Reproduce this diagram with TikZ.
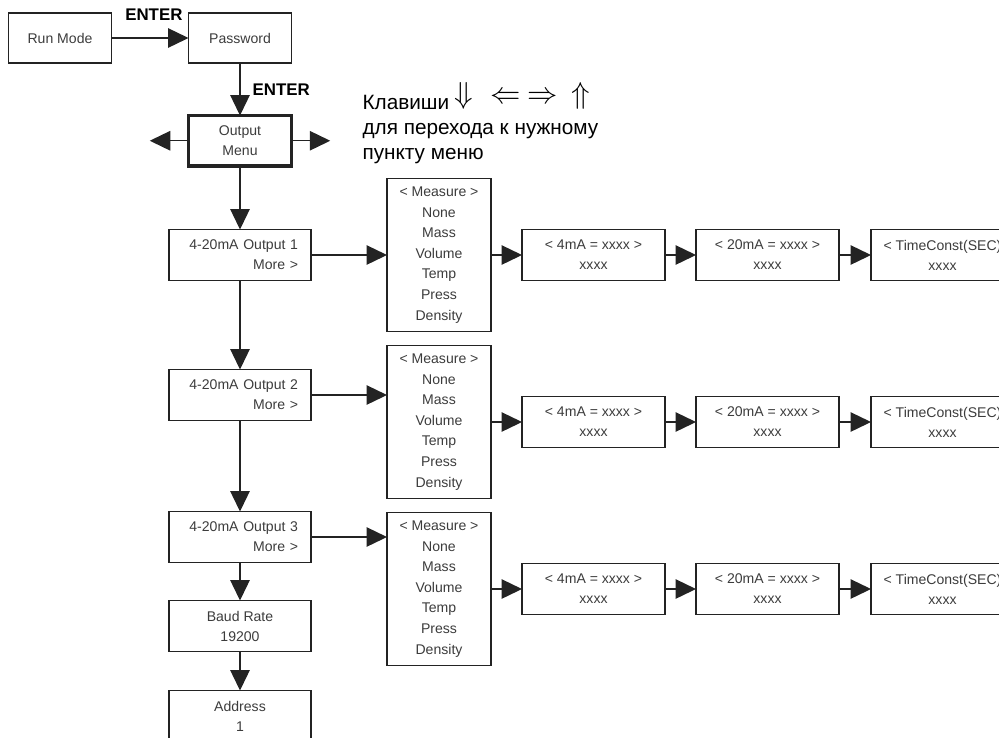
\documentclass[tikz,border=0pt]{standalone}
\usepackage{fontspec}
\setmainfont{Liberation Sans}
\usetikzlibrary{arrows.meta,positioning}
\definecolor{menuline}{RGB}{35,35,35}
\definecolor{menutext}{RGB}{60,60,60}
\newcommand{\measurelist}{< Measure >\\None\\Mass\\Volume\\Temp\\Press\\Density}
\newcommand{\navkeys}{{\fontsize{17.28}{17.28}\selectfont\raisebox{0.194em}{%
  $\Downarrow$\hspace{0.57em}$\Leftarrow$\hspace{0.22em}$\Rightarrow$\hspace{0.45em}$\Uparrow$}}}

\begin{document}
\begin{tikzpicture}[
    >={Triangle[length=0.41cm,width=0.39cm]},
    box/.style   ={draw=menuline,line width=0.8pt,text=menutext,
                   minimum width=2.06cm,minimum height=1.0cm,
                   inner sep=0pt,outer sep=0pt,align=center,
                   font=\fontsize{8}{11.4}\selectfont},
    outbox/.style={box,minimum width=2.84cm,minimum height=1.02cm},
    morebox/.style={outbox,align=right,text width=2.32cm,inner xsep=0.26cm},
    measbox/.style={box,minimum width=2.08cm,minimum height=3.06cm,
                    font=\fontsize{8}{11.7}\selectfont},
    valbox/.style={box,minimum width=2.86cm,minimum height=1.02cm},
    arr/.style   ={->,draw=menuline,line width=0.75pt},
    enter/.style ={font=\fontsize{9.6}{10}\selectfont\bfseries,inner sep=0pt},
  ]
  \useasboundingbox (0,0) rectangle (19.98,-14.74);
  \clip (0,0) rectangle (19.98,-14.74);

  %% Entry into the menu
  \node[box] (run) at (1.2,-0.76) {Run Mode};
  \node[box] (pass) [right=1.54cm of run] {Password};
  \node[box,line width=1.9pt,minimum width=2.05cm,minimum height=1.01cm]
    (menu) [below=1.05cm of pass] {Output\\Menu};

  %% Main column
  \node[morebox] (out1) [below=1.27cm of menu] {4-20mA Output 1\\More >};
  \node[morebox] (out2) [below=1.78cm of out1] {4-20mA Output 2\\More >};
  \node[morebox] (out3) [below=1.82cm of out2] {4-20mA Output 3\\More >};
  \node[outbox] (baud) [below=0.76cm of out3] {Baud Rate\\19200};
  \node[outbox] (addr) [below=0.78cm of baud] {Address\\1};

  %% Measure lists
  \node[measbox] (meas1) [right=1.52cm of out1] {\measurelist};
  \node[measbox] (meas2) [below=0.28cm of meas1] {\measurelist};
  \node[measbox] (meas3) [below=0.28cm of meas2] {\measurelist};

  %% Range and damping, row 1
  \node[valbox] (lo1) [right=0.62cm of meas1] {< 4mA = xxxx >\\xxxx};
  \node[valbox] (hi1) [right=0.62cm of lo1] {< 20mA = xxxx >\\xxxx};
  \node[valbox] (tc1) [right=0.64cm of hi1] {< TimeConst(SEC)\\xxxx};

  %% row 2
  \node[valbox] (lo2) [right=0.62cm of meas2] {< 4mA = xxxx >\\xxxx};
  \node[valbox] (hi2) [right=0.62cm of lo2] {< 20mA = xxxx >\\xxxx};
  \node[valbox] (tc2) [right=0.64cm of hi2] {< TimeConst(SEC)\\xxxx};

  %% row 3
  \node[valbox] (lo3) [right=0.62cm of meas3] {< 4mA = xxxx >\\xxxx};
  \node[valbox] (hi3) [right=0.62cm of lo3] {< 20mA = xxxx >\\xxxx};
  \node[valbox] (tc3) [right=0.64cm of hi3] {< TimeConst(SEC)\\xxxx};

  %% Hint
  \node[anchor=north west,inner sep=0pt,align=left,
        font=\fontsize{11.8}{14.2}\selectfont]
    (keys) at ([xshift=1.42cm,yshift=0.66cm]menu.north east)
    {Клавиши\hspace{3pt}\navkeys\\для перехода к нужному\\пункту меню};

  %% ENTER steps
  \draw[arr] (run) -- node[enter,above=0.34cm,pos=0.55]{ENTER} (pass);
  \draw[arr] (pass) -- node[enter,right=0.24cm]{ENTER} (menu);

  %% Left / right browsing
  \coordinate[left=0.78cm of menu] (navl);
  \coordinate[right=0.78cm of menu] (navr);
  \draw[arr] (menu) -- (navl);
  \draw[arr] (menu) -- (navr);

  %% Down the column
  \draw[arr] (menu) -- (out1);
  \draw[arr] (out1) -- (out2);
  \draw[arr] (out2) -- (out3);
  \draw[arr] (out3) -- (baud);
  \draw[arr] (baud) -- (addr);

  %% More >
  \draw[arr] (out1) -- (meas1);
  \draw[arr] (out2.east) -- (out2.east -| meas2.west);
  \draw[arr] (out3.east) -- (out3.east -| meas3.west);

  %% Along each row
  \draw[arr] (meas1) -- (lo1);
  \draw[arr] (lo1) -- (hi1);
  \draw[arr] (hi1) -- (tc1);
  \draw[arr] (meas2) -- (lo2);
  \draw[arr] (lo2) -- (hi2);
  \draw[arr] (hi2) -- (tc2);
  \draw[arr] (meas3) -- (lo3);
  \draw[arr] (lo3) -- (hi3);
  \draw[arr] (hi3) -- (tc3);
\end{tikzpicture}
\end{document}
